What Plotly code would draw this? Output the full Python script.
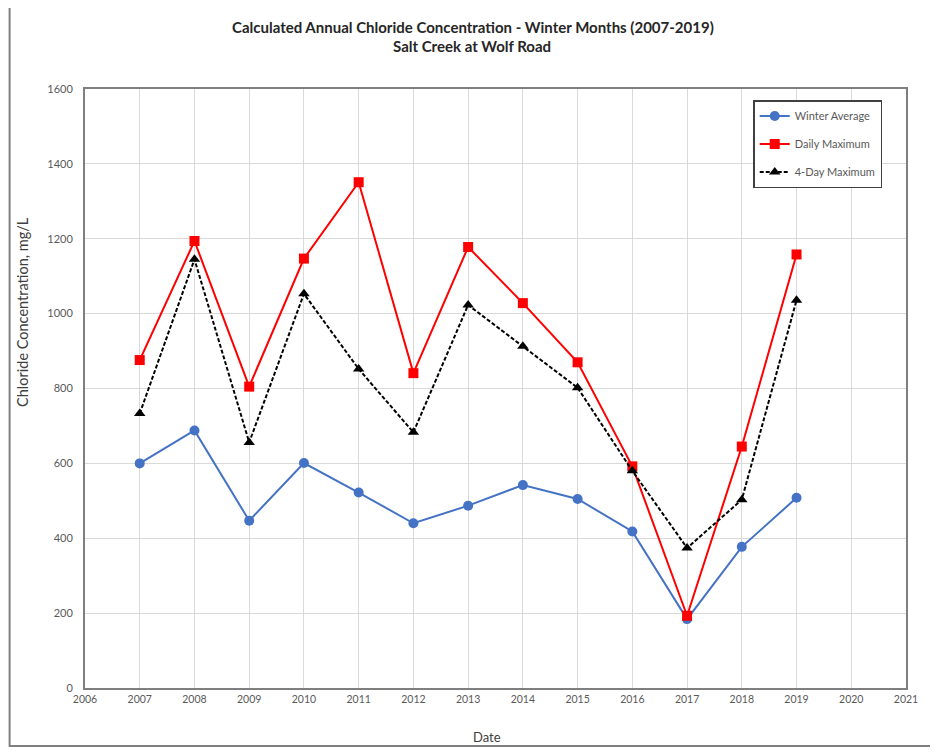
import plotly.graph_objects as go

years = [2007, 2008, 2009, 2010, 2011, 2012, 2013, 2014, 2015, 2016, 2017, 2018, 2019]
winter_average = [600, 688, 447, 601, 522, 440, 487, 542, 505, 418, 184, 377, 508]
daily_maximum = [876, 1194, 805, 1147, 1351, 841, 1178, 1028, 870, 592, 193, 645, 1158]
four_day_maximum = [733, 1145, 656, 1053, 852, 683, 1023, 913, 802, 580, 374, 503, 1036]

x_ticks = list(range(2006, 2022))
y_ticks = list(range(0, 1601, 200))

FONT = "Lato"
OFF = 8  # page body margin
W, H = 938 - 2 * OFF, 755 - 2 * OFF
L, T = 85 - OFF, 89 - OFF
R = W - (918 - OFF)
B = H - (688 - OFF)
PW, PH = W - L - R, H - T - B


def px(x):
    return (x - OFF - L) / PW


def py(y):
    return (H - B - (y - OFF)) / PH


fig = go.Figure()
fig.add_trace(go.Scatter(
    x=years, y=winter_average, name="Winter Average", mode="lines+markers",
    line=dict(color="#4472C4", width=2),
    marker=dict(symbol="circle", size=10, color="#4472C4"),
    legendgroup="a"))
fig.add_trace(go.Scatter(
    x=years, y=daily_maximum, name="Daily Maximum", mode="lines+markers",
    line=dict(color="#FF0000", width=2),
    marker=dict(symbol="square", size=10, color="#FF0000"),
    legendgroup="b"))
fig.add_trace(go.Scatter(
    x=years, y=four_day_maximum, name="4-Day Maximum", mode="lines+markers",
    line=dict(color="#000000", width=2, dash="4px,2px"),
    marker=dict(symbol="triangle-up", size=10, color="#000000"),
    legendgroup="c"))

fig.update_layout(
    width=W, height=H,
    margin=dict(l=L, r=R, t=T, b=B),
    paper_bgcolor="white", plot_bgcolor="white",
    font=dict(family=FONT, color="#404040"),
    showlegend=True,
    legend=dict(
        x=px(763), y=py(100), xanchor="left", yanchor="top",
        bgcolor="white", bordercolor="#404040", borderwidth=1.5,
        font=dict(size=11, color="#595959", family=FONT),
        tracegroupgap=9, traceorder="grouped",
        itemwidth=30,
    ),
    xaxis=dict(
        range=[2006, 2021], tickvals=x_ticks, ticktext=[str(v) for v in x_ticks],
        showgrid=True, gridcolor="#d9d9d9", gridwidth=1,
        showline=True, linecolor="#7f7f7f", linewidth=2, mirror=True,
        zeroline=False, ticks="",
        tickfont=dict(size=10.5, color="#595959", family=FONT),
    ),
    yaxis=dict(
        range=[0, 1600], tickvals=y_ticks, ticktext=[str(v) for v in y_ticks],
        showgrid=True, gridcolor="#d9d9d9", gridwidth=1,
        showline=True, linecolor="#7f7f7f", linewidth=2, mirror=True,
        zeroline=False, ticks="", ticklabelstandoff=8,
        tickfont=dict(size=11, color="#595959", family=FONT),
    ),
    annotations=[
        dict(text="<b>Calculated Annual Chloride Concentration - Winter Months (2007-2019)</b>",
             xref="paper", yref="paper", x=px(479), y=py(27), showarrow=False,
             xanchor="center", yanchor="middle",
             font=dict(size=15, color="#262626", family=FONT)),
        dict(text="<b>Salt Creek at Wolf Road</b>",
             xref="paper", yref="paper", x=px(478), y=py(46), showarrow=False,
             xanchor="center", yanchor="middle",
             font=dict(size=15, color="#262626", family=FONT)),
        dict(text="Chloride Concentration, mg/L",
             xref="paper", yref="paper", x=px(21), y=py(312), showarrow=False,
             textangle=-90, xanchor="center", yanchor="middle",
             font=dict(size=14.5, color="#404040", family=FONT)),
        dict(text="Date",
             xref="paper", yref="paper", x=px(493), y=py(737), showarrow=False,
             xanchor="center", yanchor="middle",
             font=dict(size=13, color="#404040", family=FONT)),
    ],
    shapes=[
        dict(type="rect", xref="paper", yref="paper",
             x0=px(8.5), x1=px(960), y0=py(746), y1=py(7),
             line=dict(color="#7f7f7f", width=2), fillcolor="rgba(0,0,0,0)",
             layer="below"),
    ],
)

fig.write_html("out.html")
